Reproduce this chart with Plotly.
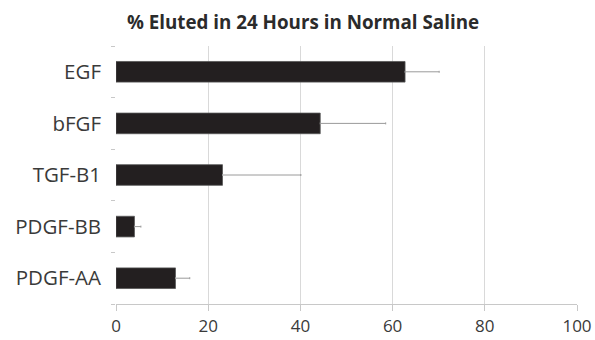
import plotly.graph_objects as go

# Growth factors, listed top to bottom
factors = ["EGF", "bFGF", "TGF-B1", "PDGF-BB", "PDGF-AA"]
eluted_pct = [62.7, 44.3, 23.1, 4.0, 12.9]
eluted_err = [7.4, 14.2, 17.0, 1.4, 3.1]
x_ticks = [0, 20, 40, 60, 80, 100]

fig = go.Figure(
    go.Bar(
        y=factors,
        x=eluted_pct,
        orientation="h",
        width=0.4,
        marker=dict(color="#231f20", line=dict(color="#555555", width=0.8)),
        error_x=dict(
            type="data",
            array=eluted_err,
            symmetric=False,
            arrayminus=[0] * len(eluted_err),
            color="#9a9a9a",
            thickness=1,
            width=1,
        ),
    )
)

fig.update_layout(
    width=595,
    height=340,
    margin=dict(l=116, r=18, t=46, b=36),
    paper_bgcolor="white",
    plot_bgcolor="white",
    showlegend=False,
    title=dict(
        text="<b>% Eluted in 24 Hours in Normal Saline</b>",
        x=303 / 595,
        xanchor="center",
        y=1 - 22 / 340,
        yanchor="middle",
        font=dict(family="Open Sans", size=18.8, color="#2b2b2b"),
    ),
    font=dict(family="Open Sans", color="#3a3a3a"),
)

fig.update_xaxes(
    range=[0, 100],
    tickvals=x_ticks,
    ticktext=[str(v) for v in x_ticks],
    automargin=False,
    showgrid=True,
    gridcolor="#d9d9d9",
    gridwidth=1,
    zeroline=False,
    showline=True,
    linecolor="#c8c8c8",
    linewidth=1,
    ticks="outside",
    ticklen=6,
    tickcolor="#c8c8c8",
    ticklabelstandoff=1,
    tickfont=dict(family="Open Sans", size=17, color="#3a3a3a"),
)

fig.update_yaxes(
    categoryorder="array",
    categoryarray=factors[::-1],
    automargin=False,
    showgrid=False,
    zeroline=False,
    showline=False,
    ticks="outside",
    tickson="boundaries",
    ticklen=4,
    tickcolor="#c8c8c8",
    ticklabelstandoff=14,
    tickfont=dict(family="Open Sans", size=20.5, color="#3a3a3a"),
)

fig.write_html("out.html")
